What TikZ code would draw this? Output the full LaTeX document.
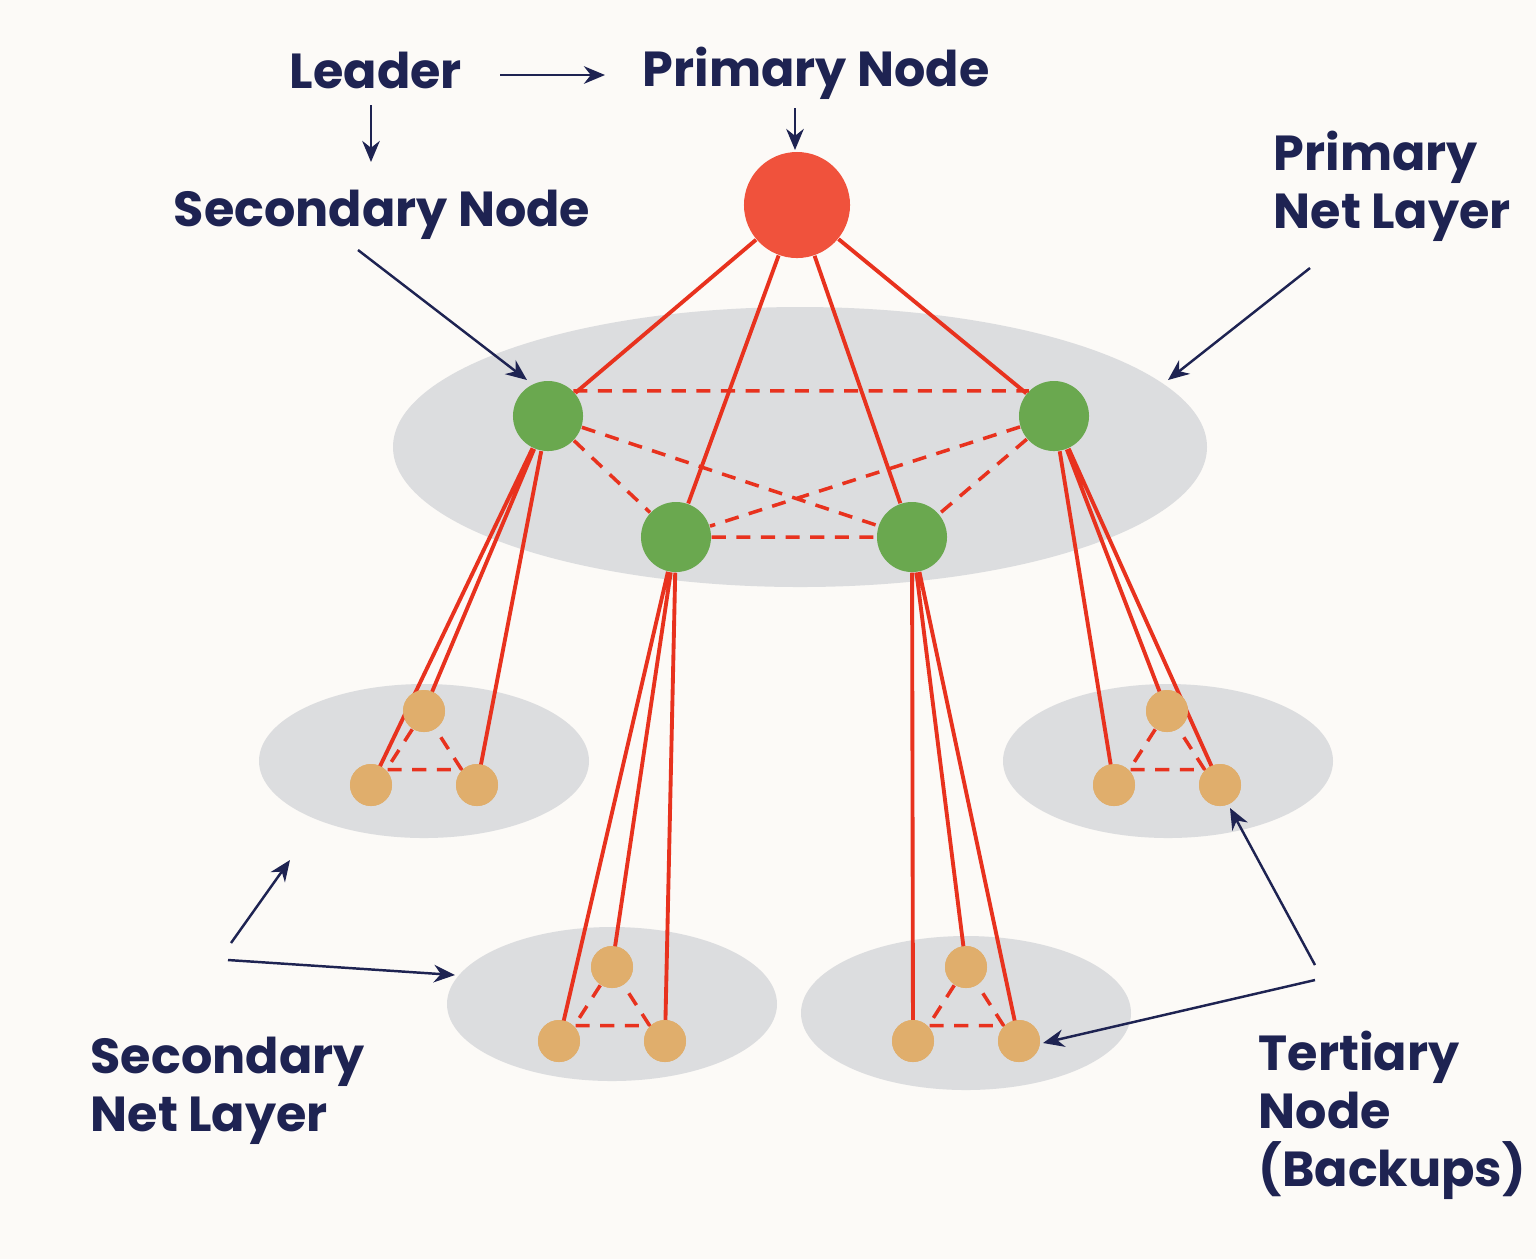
\documentclass[tikz,border=0pt]{standalone}
\usepackage{fontspec}
\setmainfont{Poppins}
\usetikzlibrary{arrows.meta}
\definecolor{bg}{HTML}{FCFAF7}
\definecolor{prim}{HTML}{F0523C}
\definecolor{gr}{HTML}{6AA84F}
\definecolor{org}{HTML}{E0AE6C}
\definecolor{ell}{HTML}{DCDDDF}
\definecolor{rl}{HTML}{E8321E}
\definecolor{navy}{HTML}{1E2352}
\begin{document}
\begin{tikzpicture}[x=0.01cm,y=-0.01cm,
 lbl/.style={text=navy,font=\fontsize{14}{16.5}\selectfont\bfseries,inner sep=0},
 ar/.style={navy,line width=0.7pt,-{Stealth[length=6pt,width=5pt]}},
 ln/.style={rl,line width=1.1pt},
 dl/.style={rl,line width=1pt,dash pattern=on 4pt off 3pt},
 gn/.style={circle,fill=gr,minimum size=0.7cm,inner sep=0},
 on/.style={circle,fill=org,minimum size=0.42cm,inner sep=0},
 pl/.style={fill=ell}]
\fill[bg] (0,0) rectangle (1536,1259);
\useasboundingbox (0,0) rectangle (1536,1259);
\fill[pl] (800,447) ellipse [x radius=407,y radius=140];
\fill[pl] (424,761) ellipse [x radius=165,y radius=77];
\fill[pl] (1168,761) ellipse [x radius=165,y radius=77];
\fill[pl] (612,1004) ellipse [x radius=165,y radius=77];
\fill[pl] (966,1013) ellipse [x radius=165,y radius=77];
\node[circle,fill=prim,minimum size=1.06cm,inner sep=0] (P) at (797,205) {};
\node[gn] (G1) at (548,416) {};
\node[gn] (G2) at (1054,416) {};
\node[gn] (G3) at (676,537) {};
\node[gn] (G4) at (912,537) {};
\foreach \n/\x/\y in {A/424/711,B/371/785,C/477/785, D/1167/711,E/1114/785,F/1220/785, H/612/967,I/559/1041,J/665/1041, K/966/967,L/913/1041,M/1019/1041}
  \node[on] (\n) at (\x,\y) {};
\foreach \g in {G1,G2,G3,G4} \draw[ln] (P) -- (\g);
\draw[dl] (G1.north east)--(G2.north west) (G1)--(G3) (G1)--(G4) (G2)--(G3) (G2)--(G4) (G3.east)--(G4.west);
\foreach \a/\b/\c/\g in {A/B/C/G1,D/E/F/G2,H/I/J/G3,K/L/M/G4}{
  \draw[dl] (\a)--(\b.north east)--(\c.north west)--(\a);
  \draw[ln] (\g)--(\a.center) (\g)--(\b.center) (\g)--(\c.center);
}
\foreach \n/\x/\y in {A/424/711,B/371/785,C/477/785, D/1167/711,E/1114/785,F/1220/785, H/612/967,I/559/1041,J/665/1041, K/966/967,L/913/1041,M/1019/1041}
  \fill[org] (\x,\y) circle (21);
\node[lbl] (leader) at (376,70) {Leader};
\node[lbl] (pn) at (816,73) {Primary Node};
\node[lbl] (sn) at (382,215) {Secondary Node};
\node[lbl,align=left,anchor=west] (pnl) at (1273,186) {Primary\\Net Layer};
\node[lbl,align=left,anchor=west] (snl) at (90,1091) {Secondary\\Net Layer};
\node[lbl,align=left,anchor=west] (tn) at (1258,1115) {Tertiary\\Node\\(Backups)};
\draw[ar] (500,75) -- (605,75);
\draw[ar] (371,105) -- (371,162);
\draw[ar] (795,108) -- (795,150);
\draw[ar] (358,250) -- (527,380);
\draw[ar] (1310,268) -- (1168,380);
\draw[ar] (231,943) -- (290,860);
\draw[ar] (228,960) -- (455,975);
\draw[ar] (1315,965) -- (1230,808);
\draw[ar] (1315,980) -- (1043,1043);
\end{tikzpicture}
\end{document}
